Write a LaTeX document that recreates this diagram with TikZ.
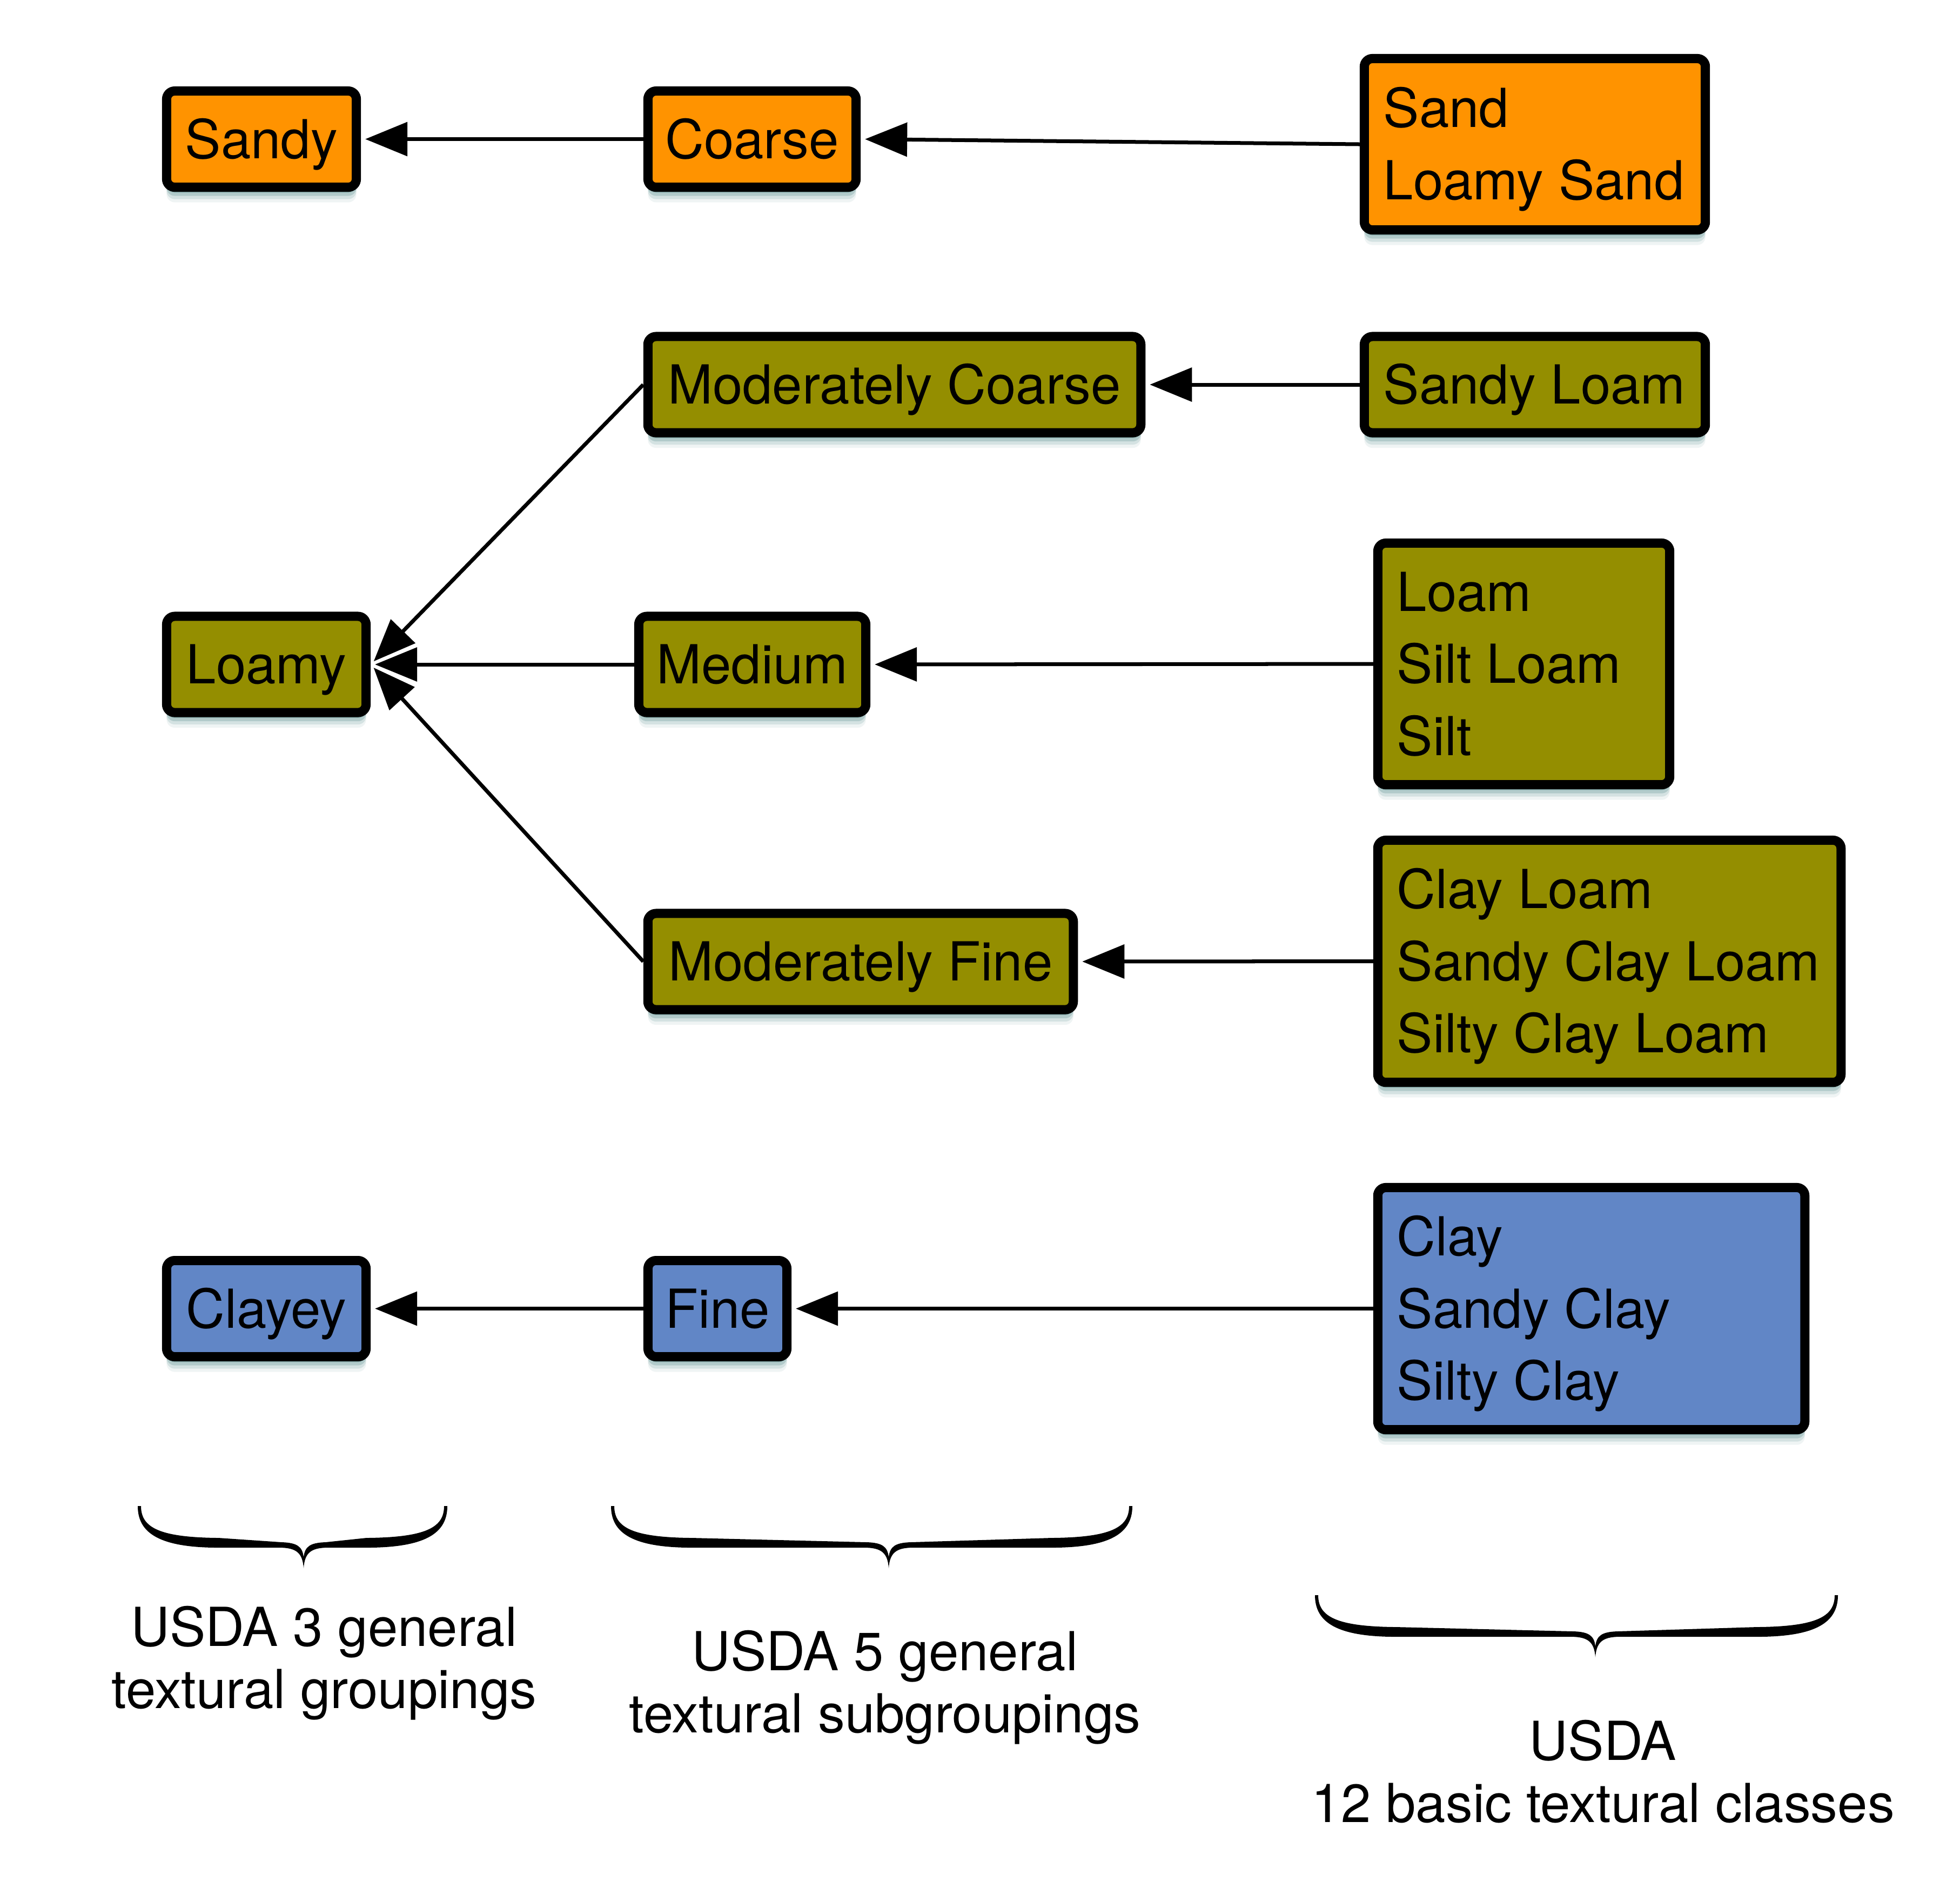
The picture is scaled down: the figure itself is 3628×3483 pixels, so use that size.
\documentclass[tikz,border=0pt]{standalone}
\usepackage{fontspec}
\setmainfont{TeX Gyre Heros}
\usetikzlibrary{arrows.meta,shadows}
\definecolor{cOrange}{RGB}{255,147,0}
\definecolor{cOlive}{RGB}{148,142,0}
\definecolor{cBlue}{RGB}{97,134,198}
\definecolor{shcol}{RGB}{50,115,115}
\newcommand\mlines[2]{\makebox[#1][l]{\begin{tabular}[b]{@{}l@{}}#2\end{tabular}}}
% brace: left x, right x, tip x, top y (pixel units, y downward)
\newcommand\ubrace[4]{%
  \fill (#1,#4) .. controls (#1,#4+50) and (#1+40,#4+77) .. (#1+150,#4+77)
   -- (#3-45,#4+77) .. controls (#3-12,#4+77) and (#3-2,#4+88) .. (#3,#4+115)
   .. controls (#3+2,#4+88) and (#3+12,#4+77) .. (#3+45,#4+77)
   -- (#2-150,#4+77) .. controls (#2-40,#4+77) and (#2,#4+50) .. (#2,#4)
   -- (#2-6,#4) .. controls (#2-6,#4+40) and (#2-40,#4+58) .. (#2-150,#4+59)
   -- (#3+40,#4+67) .. controls (#3+12,#4+68) and (#3+2,#4+75) .. (#3,#4+95)
   .. controls (#3-2,#4+75) and (#3-12,#4+68) .. (#3-40,#4+67)
   -- (#1+150,#4+59) .. controls (#1+40,#4+58) and (#1+6,#4+40) .. (#1+6,#4) -- cycle;}
\begin{document}
\begin{tikzpicture}[x=0.01cm,y=-0.01cm,
  boxshadow/.style={
    general shadow={shadow yshift=-0.10cm, fill=shcol, opacity=0.30},
    general shadow={shadow yshift=-0.16cm, fill=shcol, opacity=0.22},
    general shadow={shadow yshift=-0.22cm, fill=shcol, opacity=0.14},
    general shadow={shadow yshift=-0.28cm, fill=shcol, opacity=0.08}},
  box/.style={boxshadow, draw=black, line width=0.17cm, rounded corners=0.15cm,
    inner sep=0pt, minimum height=1.78cm, text height=20.3pt, text depth=0pt,
    font=\fontsize{28.3pt}{38pt}\selectfont},
  tall2/.style={text height=58.3pt},
  tall3/.style={text height=96.3pt},
  arr/.style={draw=black, line width=0.07cm, shorten >=0.08cm,
    -{Triangle[length=0.78cm,width=0.62cm]}},
  lbl/.style={anchor=base, align=center, inner sep=0pt,
    font=\fontsize{28.3pt}{32.6pt}\selectfont}
]
\useasboundingbox (0,0) rectangle (3628,3483);

% column 1
\node[box, fill=cOrange, minimum width=3.51cm] (sandy) at (484,257.5) {Sandy};
\node[box, fill=cOlive, minimum width=3.69cm] (loamy) at (493,1230) {Loamy};
\node[box, fill=cBlue, minimum width=3.69cm] (clayey) at (493,2422.5) {Clayey};

% column 2
\node[box, fill=cOrange, minimum width=3.85cm] (coarse) at (1392,257.5) {Coarse};
\node[box, fill=cOlive, minimum width=9.12cm] (modcoarse) at (1655.5,712) {Moderately Coarse};
\node[box, fill=cOlive, minimum width=4.20cm] (medium) at (1392.5,1230) {Medium};
\node[box, fill=cOlive, minimum width=7.87cm] (modfine) at (1593,1780) {Moderately Fine};
\node[box, fill=cBlue, minimum width=2.57cm] (fine) at (1328,2422.5) {Fine};

% column 3
\node[box, tall2, fill=cOrange, minimum width=6.31cm, minimum height=3.17cm] (sand) at (2841,267)
  {\mlines{5.60cm}{Sand\\Loamy Sand}};
\node[box, fill=cOlive, minimum width=6.31cm] (sandyloam) at (2841,712)
  {\makebox[5.60cm][l]{Sandy Loam}};
\node[box, tall3, fill=cOlive, minimum width=5.40cm, minimum height=4.47cm] (loam) at (2820.5,1229)
  {\mlines{4.69cm}{Loam\\Silt Loam\\Silt}};
\node[box, tall3, fill=cOlive, minimum width=8.57cm, minimum height=4.48cm] (clayloam) at (2979,1779.5)
  {\mlines{7.86cm}{Clay Loam\\Sandy Clay Loam\\Silty Clay Loam}};
\node[box, tall3, fill=cBlue, minimum width=7.90cm, minimum height=4.48cm] (clay) at (2945.5,2422.5)
  {\mlines{7.19cm}{Clay\\Sandy Clay\\Silty Clay}};

% connectors
\draw[arr] (coarse.west) -- (sandy.east);
\draw[arr] (sand.west) -- (coarse.east);
\draw[arr] (sandyloam.west) -- (modcoarse.east);
\draw[arr] (modcoarse.west) -- (loamy.east);
\draw[arr] (medium.west) -- (loamy.east);
\draw[arr] (modfine.west) -- (loamy.east);
\draw[arr] (loam.west) -- (medium.east);
\draw[arr] (clayloam.west) -- (modfine.east);
\draw[arr] (fine.west) -- (clayey.east);
\draw[arr] (clay.west) -- (fine.east);

% braces
\ubrace{255}{828}{562}{2788}
\ubrace{1131}{2096}{1645}{2788}
\ubrace{2434}{3402}{2953}{2953}

% labels (anchor base = last line baseline)
\node[lbl] (lab1) at (600,3162) {USDA 3 general\\textural groupings};
\node[lbl] (lab2) at (1638,3207) {USDA 5 general\\textural subgroupings};
\node[lbl] (lab3) at (2967,3373) {USDA\\12 basic textural classes};
\end{tikzpicture}
\end{document}
